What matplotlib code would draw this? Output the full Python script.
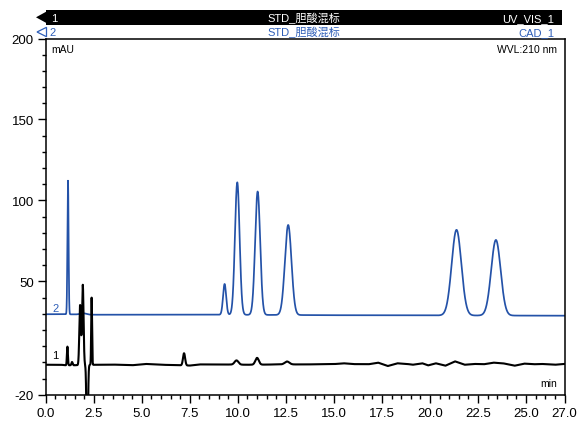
import numpy as np
import matplotlib
matplotlib.use("Agg")
import matplotlib.pyplot as plt
from matplotlib import font_manager
from matplotlib.patches import Rectangle, Polygon
from matplotlib.ticker import MultipleLocator, FixedLocator

# ---------------------------------------------------------------- data
sample_name = "STD_胆酸混标"
channels = ["UV_VIS_1", "CAD_1"]
wavelength_label = "WVL:210 nm"

x_ticks = [0.0, 2.5, 5.0, 7.5, 10.0, 12.5, 15.0, 17.5, 20.0, 22.5, 25.0, 27.0]
y_ticks = [-20, 50, 100, 150, 200]

# trace 2 (CAD_1): baseline drift and peak table
cad_base_t = [0.0, 1.0, 2.5, 9.0, 15.0, 27.0]
cad_base_v = [29.7, 29.7, 29.4, 29.4, 29.1, 28.8]
cad_rt = [1.16, 1.95, 9.31, 9.97, 11.03, 12.62, 21.38, 23.43]
cad_height = [82.5, 0.8, 19.0, 81.8, 76.2, 55.6, 52.9, 46.7]
cad_sigma = [0.03, 0.15, 0.08, 0.12, 0.13, 0.17, 0.25, 0.245]

# trace 1 (UV_VIS_1): baseline and peak table
uv_base_t = [0.0, 0.8, 1.0, 1.5, 2.6, 3.5, 4.5, 5.2, 6.0, 6.9, 7.5, 8.0,
             9.0, 10.5, 11.5, 12.0, 13.5, 15.0, 15.5, 16.0, 16.8, 17.3,
             17.8, 18.3, 18.8, 19.1, 19.6, 19.9, 20.3, 20.8, 21.3, 21.8,
             22.3, 22.8, 23.3, 23.8, 24.4, 24.9, 25.4, 25.8, 26.5, 27.0]
uv_base_v = [-1.5, -1.5, -1.8, -1.8, -1.5, -1.4, -1.8, -1.0, -1.5, -1.8, -2.0, -1.3,
             -1.3, -1.5, -1.4, -1.3, -1.3, -1.1, -0.6, -1.1, -1.2, -0.2,
             -2.3, -0.6, -1.0, -1.5, -0.6, -1.9, -0.6, -2.1, 0.6, -1.5,
             -1.0, -1.2, -0.2, -0.6, -2.1, -0.8, -1.2, -1.0, -1.5, -1.0]
uv_rt = [1.13, 1.37, 1.79, 1.93, 2.16, 2.39, 7.20, 9.93, 11.00, 12.56]
uv_height = [11.5, 2.0, 37.0, 49.5, -65.0, 41.5, 7.5, 2.6, 4.2, 1.8]
uv_sigma = [0.025, 0.03, 0.04, 0.04, 0.035, 0.022, 0.055, 0.10, 0.09, 0.12]


def pick_font(names):
    have = {f.name for f in font_manager.fontManager.ttflist}
    for n in names:
        if n in have:
            return n
    return "DejaVu Sans"


latin = pick_font(["Liberation Sans", "Arial", "DejaVu Sans"])
families = [latin, "Noto Sans CJK SC", "DejaVu Sans"]
plt.rcParams["font.family"] = families


def build_trace(t, base_t, base_v, rt, h, s):
    y = np.interp(t, base_t, base_v)
    for r, a, w in zip(rt, h, s):
        y = y + a * np.exp(-0.5 * ((t - r) / w) ** 2)
    return y


time = np.linspace(0.0, 27.0, 10801)
cad = build_trace(time, cad_base_t, cad_base_v, cad_rt, cad_height, cad_sigma)
uv = build_trace(time, uv_base_t, uv_base_v, uv_rt, uv_height, uv_sigma)

# ---------------------------------------------------------------- figure
W, H = 579, 427
fig = plt.figure(figsize=(W / 100, H / 100), dpi=100)
ax_l, ax_r, ax_t, ax_b = 45.7, 564.5, 39.5, 395.7
ax = fig.add_axes([ax_l / W, 1 - ax_b / H, (ax_r - ax_l) / W, (ax_b - ax_t) / H])
ax.set_facecolor("none")

blue = "#2452a8"
blue_txt = "#2f5fb8"

ax.plot(time, cad, color=blue, lw=1.25, solid_joinstyle="round")
ax.plot(time, uv, color="black", lw=1.5, solid_joinstyle="round")

ax.set_xlim(0, 27)
ax.set_ylim(-20, 200)
ax.xaxis.set_major_locator(FixedLocator(x_ticks))
ax.xaxis.set_minor_locator(MultipleLocator(0.5))
ax.yaxis.set_major_locator(FixedLocator(y_ticks))
ax.yaxis.set_minor_locator(MultipleLocator(10))
ax.set_xticklabels([f"{v:.1f}" for v in x_ticks])
ax.set_yticklabels([str(v) for v in y_ticks])
ax.tick_params(which="major", direction="out", length=5.5, width=1.0,
               labelsize=9.5, pad=3, color="black")
ax.tick_params(which="minor", direction="out", length=3, width=1.0)
for sp in ax.spines.values():
    sp.set_linewidth(1.1)

ax.text(0.01, 0.985, "mAU", transform=ax.transAxes, ha="left", va="top", fontsize=7.5)
ax.text(0.985, 0.985, wavelength_label, transform=ax.transAxes, ha="right", va="top",
        fontsize=7.5)
ax.text(0.985, 0.018, "min", transform=ax.transAxes, ha="right", va="bottom",
        fontsize=7.5)
ax.text(0.33, 4.5, "1", color="black", fontsize=8, ha="left", va="center")
ax.text(0.33, 33.5, "2", color=blue_txt, fontsize=8, ha="left", va="center")


def fx(px):
    return px / W


def fy(py):
    return 1 - py / H


# header: channel 1 (filled bar) and channel 2 (open marker)
fig.patches.append(Rectangle((fx(45.5), fy(25.5)), fx(561.5) - fx(45.5), fy(11.0) - fy(25.5),
                             transform=fig.transFigure, facecolor="black",
                             edgecolor="none"))
fig.patches.append(Polygon([(fx(36), fy(18.3)), (fx(46), fy(12.8)), (fx(46), fy(23.8))],
                           closed=True, transform=fig.transFigure,
                           facecolor="black", edgecolor="none"))
fig.patches.append(Polygon([(fx(37), fy(33)), (fx(46.5), fy(28.3)), (fx(46.5), fy(37.7))],
                           closed=True, transform=fig.transFigure,
                           facecolor="none", edgecolor=blue_txt, lw=0.9))

hdr = dict(fontsize=8, va="baseline", zorder=5)
fig.text(fx(51), fy(22.3), "1", color="white", ha="left", **hdr)
fig.text(fx(304), fy(22.3), sample_name, color="white", ha="center", **hdr)
fig.text(fx(554), fy(22.3), channels[0], color="white", ha="right", **hdr)
fig.text(fx(49), fy(36.3), "2", color=blue_txt, ha="left", **hdr)
fig.text(fx(304), fy(36.3), sample_name, color=blue_txt, ha="center", **hdr)
fig.text(fx(554), fy(36.3), channels[1], color=blue_txt, ha="right", **hdr)

fig.savefig("out.png", dpi=100)
